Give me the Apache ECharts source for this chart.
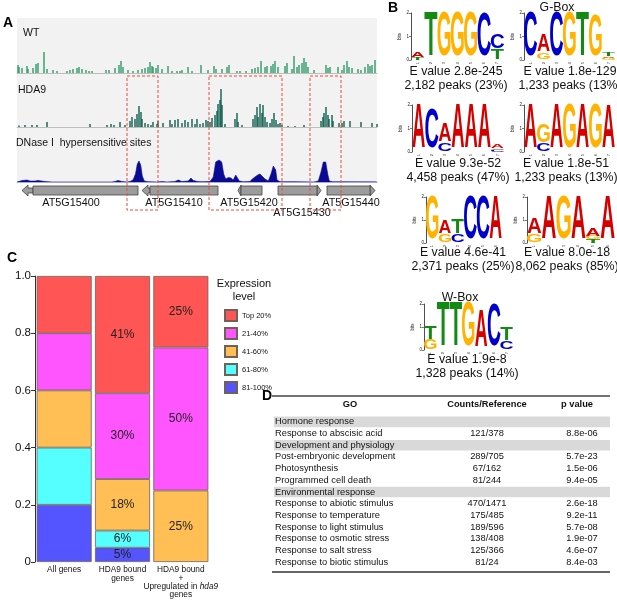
<!DOCTYPE html>
<html>
<head>
<meta charset="utf-8">
<script src="https://cdn.jsdelivr.net/npm/echarts@6/dist/echarts.min.js"></script>
<style>
  html, body { margin: 0; padding: 0; background: #fff; }
  #main { width: 617px; height: 601px; }
</style>
</head>
<body>
<div id="main"></div>
<script>
// ---------- Panel A: browser tracks (x in track bins, y in coverage) ----------
const wtCoverage = [[1,8],[2,6],[5,5],[10,7],[11,4],[16,5],[19,9],[21,10],[27,21],[30,4],[36,3],[40,2],[50,2],[53,3],[56,4],[60,5],[62,6],[65,4],[69,3],[72,2],[75,2],
  [89,3],[92,3],[98,5],[102,8],[104,12],[106,6],[111,3],[116,2],[121,3],[125,4],[128,5],[131,6],[133,11],[135,7],[136,6],[139,5],[141,8],[145,4],[151,7],[155,2],
  [160,2],[163,2],[165,3],[171,6],[175,2],[184,8],[191,3],[197,7],[199,4],[205,4],[210,6],[212,8],[220,2],[223,2],[229,2],[235,4],[238,5],[241,6],[244,12],[248,6],
  [250,7],[254,7],[256,9],[258,12],[261,6],[268,7],[270,10],[275,4],[277,17],[280,6],[282,8],[285,10],[287,15],[289,11],[291,6],[297,3],[309,8],[311,5],[313,6],
  [321,6],[325,3],[327,8],[330,12],[332,6],[335,5],[341,4],[344,3],[348,6],[351,9],[353,7],[355,8],[358,13]];
const hda9Coverage = [[2,1.5],[8,2],[15,2],[20,2],[30,5],[73,3],[90,2],[94,3],[97,2],[103,5],[108,2],[113,6],[115,10],[118,8],[120,13],[122,21],[124,15],[125,8],
  [128,4],[131,3],[134,2],[136,5],[140,3],[141,6],[146,4],[153,7],[155,3],[158,7],[161,8],[165,4],[168,7],[171,5],[175,8],[178,3],[180,8],[183,3],[186,4],[189,7],
  [191,6],[193,5],[195,9],[198,12],[200,16],[201,23],[203,27],[204,38],[205,22],[208,3],[218,8],[220,14],[221,5],[225,2],[236,8],[238,12],[240,20],[241,10],
  [243,23],[245,14],[246,22],[248,10],[250,5],[253,4],[255,8],[257,14],[259,7],[261,3],[263,4],[265,2],[271,1],[278,1],[287,2],[304,6],[306,10],[307,14],
  [309,20],[311,12],[312,8],[315,12],[316,6],[322,4],[325,4],[327,6],[333,6],[344,5],[355,4],[360,3]];
const dnaseSignal = [[0,0],[1,2],[5,1.5],[10,2],[13,1],[18,1],[21,1.5],[28,0.5],[35,0],[95,0],[98,0.5],[101,1.5],[105,0.5],[110,0],[113,0.5],[116,2],[118.5,8],
  [120.3,18],[122,21],[123.7,17],[125.3,6],[127.3,1],[131,0.3],[140,0],[144.7,0.5],[150,0],[158,0.5],[161.3,2],[164.7,0.5],[171.3,1],[174,4],[176.3,1.5],
  [180.7,0.5],[184.7,0.3],[193,0.5],[196.3,5],[198.7,20],[202,22],[204.7,20],[206.7,8],[208.7,3],[211.3,4.5],[214,4],[216.3,2],[218.7,7],[220.7,6],[222.3,1],
  [226.3,0.3],[233,0.5],[235.3,3],[238,5],[240.7,7],[243,8],[244.7,6],[248,3],[251.3,1],[254,8],[256.3,16],[258.7,12],[260,2],[263,0.3],[278,0.3],[297,0],
  [301.3,1],[304,10],[306.3,20],[308.7,20],[310.7,8],[312.3,1],[315.3,0.3],[358,0.3],[360,0]];

const geneNames  = ['AT5G15400', 'AT5G15410', 'AT5G15420', 'AT5G15430', 'AT5G15440'];
const geneStart  = [16, 133, 224, 261, 310];
const geneEnd    = [121, 201, 245, 300, 353];
const geneStrand = [-1, -1, -1, 1, 1];
const geneArrow  = [11, 8, 3, 4, 5];
const geneLabelX = [54, 157, 232, 285, 334];
const geneLabelRow = [0, 0, 0, 1, 0];
const hda9Regions = [[110, 141], [192, 265], [293, 324]];

// ---------- Panel B: motif logos (letter, bits) bottom to top ----------
const logo1 = [[['T',.12],['A',.22]], [['T',1.95]], [['G',1.93]], [['G',1.93]], [['G',1.93]], [['C',1.88]], [['T',.42],['C',.62]]];
const logo2 = [[['C',1.9]], [['G',.3],['A',.75]], [['C',1.9]], [['G',1.9]], [['T',1.9]], [['G',1.78]], [['G',.1],['A',.05],['T',.15]]];
const logo3 = [[['A',1.9]], [['C',1.72]], [['C',.36],['A',.78]], [['A',1.9]], [['A',1.9]], [['A',1.9]], [['C',.08],['G',.07],['A',.14]]];
const logo4 = [[['A',1.9]], [['C',.32],['G',.78]], [['A',1.9]], [['G',1.9]], [['A',1.9]], [['G',1.9]], [['A',1.85]]];
const logo5 = [[['G',1.9]], [['G',.36],['A',.57]], [['C',.36],['T',.64]], [['C',1.9]], [['C',1.9]], [['A',1.9]]];
const logo6 = [[['G',.36],['A',.7]], [['A',1.9]], [['G',1.9]], [['A',1.9]], [['T',.14],['G',.14],['A',.36]], [['A',1.9]]];
const logo7 = [[['G',.43],['T',.58]], [['T',1.95]], [['T',1.95]], [['G',1.95]], [['A',1.65]], [['C',1.85]], [['C',.36],['T',.58]]];
const logoNames = ['', 'G-Box', '', '', '', '', 'W-Box'];
const logoEValues = ['2.8e-245', '1.8e-129', '9.3e-52', '1.8e-51', '4.6e-41', '8.0e-18', '1.9e-8'];
const logoPeaks = ['2,182 peaks (23%)', '1,233 peaks (13%)', '4,458 peaks (47%)', '1,233 peaks (13%)', '2,371 peaks (25%)', '8,062 peaks (85%)', '1,328 peaks (14%)'];

// ---------- Panel C: expression level fractions ----------
const barCats = ['All genes', 'HDA9 bound\ngenes', 'HDA9 bound\n+\nUpregulated in hda9\ngenes'];
const levelNames = ['81-100%', '61-80%', '41-60%', '21-40%', 'Top 20%'];
const level81 = [0.20, 0.05, 0];
const level61 = [0.20, 0.06, 0];
const level41 = [0.20, 0.18, 0.25];
const level21 = [0.20, 0.30, 0.50];
const levelTop = [0.20, 0.41, 0.25];
const yTicks = [0, 0.2, 0.4, 0.6, 0.8, 1.0];

// ---------- Panel D: GO table ----------
const goTerms = ['Hormone response', 'Response to abscisic acid', 'Development and physiology', 'Post-embryonic development', 'Photosynthesis',
  'Programmed cell death', 'Environmental response', 'Response to abiotic stimulus', 'Response to temperature', 'Response to light stimulus',
  'Response to osmotic stress', 'Response to salt stress', 'Response to biotic stimulus'];
const goCounts = ['', '121/378', '', '289/705', '67/162', '81/244', '', '470/1471', '175/485', '189/596', '138/408', '125/366', '81/24'];
const goPValues = ['', '8.8e-06', '', '5.7e-23', '1.5e-06', '9.4e-05', '', '2.6e-18', '9.2e-11', '5.7e-08', '1.9e-07', '4.6e-07', '8.4e-03'];
const goSection = [1, 0, 1, 0, 0, 0, 1, 0, 0, 0, 0, 0, 0];

// ---------- styles ----------
const FONT = 'Liberation Sans';
const LETTER_COLOR = { A: '#d40000', C: '#0000cc', G: '#ffb300', T: '#138a13' };
const LETTER_INK = { A: 0.70, C: 0.64, G: 0.68, T: 0.60 };
const LEVEL_COLOR = ['#5555ff', '#55ffff', '#ffbf55', '#ff55ff', '#ff5555'];

const grid = [], xAxis = [], yAxis = [], series = [], title = [];
function addGrid(g, xa, ya) {
  const i = grid.length;
  grid.push(g);
  xAxis.push(Object.assign({ gridIndex: i }, xa));
  yAxis.push(Object.assign({ gridIndex: i }, ya));
  return i;
}
const hiddenVal = (min, max, inverse) => ({ type: 'value', min, max, show: false, inverse: !!inverse });
function text(t, left, top, style, align) {
  title.push({ text: t, left, top, textAlign: align || 'left', padding: 0,
    textStyle: Object.assign({ fontFamily: FONT, fontSize: 10.5, fontWeight: 'normal', color: '#111', lineHeight: 12 }, style) });
}

// ===== Panel A =====
addGrid({ left: 17, top: 18, width: 360, height: 165, show: true, backgroundColor: '#f2f2f2', borderWidth: 0 }, hiddenVal(0, 360), hiddenVal(0, 1));
const trackX = color => ({ type: 'value', min: 0, max: 360, axisLine: { show: true, onZero: false, lineStyle: { color, width: 1 } },
  axisTick: { show: false }, axisLabel: { show: false }, splitLine: { show: false } });
const wtIdx = addGrid({ left: 17, top: 51, width: 360, height: 22 }, trackX('#bdbdbd'), hiddenVal(0, 22));
const hdIdx = addGrid({ left: 17, top: 87, width: 360, height: 40 }, trackX('#bdbdbd'), hiddenVal(0, 40));
const dnIdx = addGrid({ left: 17, top: 158, width: 360, height: 24 }, trackX('#a9a9e2'), hiddenVal(0, 24));
series.push({ type: 'bar', xAxisIndex: wtIdx, yAxisIndex: wtIdx, data: wtCoverage, barWidth: 1.4, itemStyle: { color: '#2f9a68' }, silent: true });
series.push({ type: 'bar', xAxisIndex: hdIdx, yAxisIndex: hdIdx, data: hda9Coverage, barWidth: 1.4, itemStyle: { color: '#0d5e4e' }, silent: true });
series.push({ type: 'line', xAxisIndex: dnIdx, yAxisIndex: dnIdx, data: dnaseSignal, symbol: 'none', silent: true,
  lineStyle: { color: '#0a0a92', width: 0.6 }, areaStyle: { color: '#0a0a92', opacity: 1 } });

const geneIdx = addGrid({ left: 17, top: 184, width: 360, height: 34 }, hiddenVal(0, 360), hiddenVal(0, 34, true));
series.push({
  type: 'custom', xAxisIndex: geneIdx, yAxisIndex: geneIdx, silent: true,
  data: geneNames.map((n, i) => [geneStart[i], geneEnd[i], geneStrand[i], geneArrow[i], geneLabelX[i], geneLabelRow[i]]),
  renderItem(params, api) {
    const i = params.dataIndex;
    const s = api.value(0), e = api.value(1), dir = api.value(2), arrow = api.value(3);
    const p0 = api.coord([s, 2]), p1 = api.coord([e, 11]);
    const top = p0[1], bot = p1[1], mid = (top + bot) / 2;
    const base = dir < 0 ? p0[0] : p1[0];
    const tip = api.coord([dir < 0 ? s - arrow : e + arrow, 0])[0];
    const hl = Math.min(Math.abs(tip - base), 6) * dir;
    const pts = [[tip, mid], [tip - hl, mid - 5.5], [tip - hl, mid - 2.5], [base, mid - 2.5], [base, mid + 2.5], [tip - hl, mid + 2.5], [tip - hl, mid + 5.5]];
    const lp = api.coord([api.value(4), api.value(5) ? 29 : 19]);
    return { type: 'group', children: [
      { type: 'polygon', shape: { points: pts }, style: { fill: '#9c9c9c', stroke: '#444', lineWidth: 0.8 } },
      { type: 'rect', shape: { x: p0[0], y: top, width: p1[0] - p0[0], height: bot - top }, style: { fill: '#9c9c9c', stroke: '#444', lineWidth: 0.8 } },
      { type: 'text', x: lp[0], y: lp[1], style: { text: geneNames[i], fontFamily: FONT, fontSize: 10.8, fill: '#111', align: 'center', verticalAlign: 'middle' } }
    ] };
  }
});

const boxIdx = addGrid({ left: 17, top: 76, width: 360, height: 134 }, hiddenVal(0, 360), hiddenVal(0, 1));
series.push({
  type: 'custom', xAxisIndex: boxIdx, yAxisIndex: boxIdx, silent: true, z: 5, data: hda9Regions,
  renderItem(params, api) {
    const a = api.coord([api.value(0), 1]), b = api.coord([api.value(1), 0]);
    return { type: 'rect', shape: { x: a[0], y: a[1], width: b[0] - a[0], height: b[1] - a[1] },
      style: { fill: 'none', stroke: '#ec4a3c', lineWidth: 1, lineDash: [3, 2] } };
  }
});
text('A', 3, 16, { fontSize: 14, fontWeight: 'bold', color: '#000', lineHeight: 14 });
text('WT', 23, 27);
text('HDA9', 18, 84);
text('DNase I  hypersensitive sites', 16, 137);

// ===== Panel B =====
const logos = [logo1, logo2, logo3, logo4, logo5, logo6, logo7];
const logoRects = [[411, 13, 93, 47], [524, 13, 91, 47], [412, 105, 92, 47], [524, 105, 91, 47], [426, 197, 76, 46], [527, 197, 88, 46], [424, 304, 89, 46]];
const logoTextAt = [[456, 65], [570, 65], [458, 157], [566, 157], [463, 246], [567, 246], [467, 353]];
const logoNameAt = [null, [557, 1], null, null, null, null, [460, 291]];
logos.forEach((cols, k) => {
  const r = logoRects[k];
  const idx = addGrid({ left: r[0], top: r[1], width: r[2], height: r[3] },
    { type: 'category', data: cols.map((c, i) => String(i + 1)), axisLine: { show: false }, axisTick: { show: false },
      axisLabel: { fontSize: 4, rotate: 90, margin: 2, color: '#333', fontFamily: FONT } },
    { type: 'value', min: 0, max: 2, interval: 1, axisLine: { show: true, lineStyle: { color: '#222', width: 0.8 } },
      axisTick: { show: true, length: 2, lineStyle: { color: '#222', width: 0.6 } }, splitLine: { show: false },
      axisLabel: { fontSize: 4.5, margin: 2, color: '#222', fontFamily: FONT },
      name: 'bits', nameLocation: 'middle', nameGap: 7, nameRotate: 90, nameTextStyle: { fontSize: 4.5, color: '#222', fontFamily: FONT } });
  const data = [], letters = [];
  cols.forEach((stack, i) => {
    let y = 0;
    stack.forEach(([ch, b]) => { data.push([i, y, y + b]); letters.push(ch); y += b; });
  });
  series.push({
    type: 'custom', xAxisIndex: idx, yAxisIndex: idx, silent: true, data,
    renderItem(params, api) {
      const ch = letters[params.dataIndex];
      const i = api.value(0), y0 = api.value(1), y1 = api.value(2);
      const bw = api.size([1, 0])[0];
      const pb = api.coord([i, y0]), pt = api.coord([i, y1]);
      const h = pb[1] - pt[1];
      const F = 40;
      return { type: 'text', x: pb[0], y: (pb[1] + pt[1]) / 2, scaleX: bw * 0.98 / (F * LETTER_INK[ch]), scaleY: h / (F * 0.72),
        style: { text: ch, fontFamily: FONT, fontWeight: 'bold', fontSize: F, fill: LETTER_COLOR[ch], align: 'center', verticalAlign: 'middle' } };
    }
  });
  text('E value ' + logoEValues[k] + '\n' + logoPeaks[k], logoTextAt[k][0], logoTextAt[k][1], { fontSize: 12.3, lineHeight: 13.5 }, 'center');
  if (logoNames[k]) text(logoNames[k], logoNameAt[k][0], logoNameAt[k][1], { fontSize: 12.3, lineHeight: 13 }, 'center');
});
text('B', 388, 1, { fontSize: 14, fontWeight: 'bold', color: '#000', lineHeight: 14 });

// ===== Panel C =====
const cIdx = addGrid({ left: 35, top: 276, width: 175, height: 286 },
  { type: 'category', data: barCats, axisLine: { show: false }, axisTick: { show: false },
    axisLabel: { interval: 0, fontSize: 8.3, lineHeight: 8.3, margin: 4, color: '#111', fontFamily: FONT,
      formatter: v => v.replace('in hda9', 'in {i|hda9}'),
      rich: { i: { fontStyle: 'italic', fontSize: 8.3, lineHeight: 8.3, fontFamily: FONT, color: '#111' } } } },
  { type: 'value', min: 0, max: 1, interval: 0.2, axisLine: { show: true, lineStyle: { color: '#333', width: 1 } },
    axisTick: { show: true, length: 4, lineStyle: { color: '#333' } }, splitLine: { show: false },
    axisLabel: { fontSize: 11.5, margin: 4, color: '#111', fontFamily: FONT,
      formatter: v => (yTicks.indexOf(+v.toFixed(1)) === 0 ? '0' : v.toFixed(1)) } });
[level81, level61, level41, level21, levelTop].forEach((vals, k) => {
  series.push({
    type: 'bar', name: levelNames[k], xAxisIndex: cIdx, yAxisIndex: cIdx, stack: 'expr', barCategoryGap: '5.7%',
    data: vals.map(v => (v > 0 ? v : null)),
    itemStyle: { color: LEVEL_COLOR[k], borderColor: '#6e6258', borderWidth: 0.8 },
    label: { show: true, position: 'inside', fontSize: 12, color: '#222', fontFamily: FONT,
      formatter: p => (p.dataIndex > 0 && p.value ? Math.round(p.value * 100) + '%' : '') },
    silent: true
  });
});
text('C', 7, 251, { fontSize: 14, fontWeight: 'bold', color: '#000', lineHeight: 14 });
text('Expression\nlevel', 244, 278, { fontSize: 11, lineHeight: 12.5 }, 'center');

// ===== Panel D =====
const dIdx = addGrid({ left: 272, top: 416, width: 338, height: 152 }, hiddenVal(0, 338),
  { type: 'category', data: goTerms, inverse: true, show: false });
series.push({
  type: 'custom', xAxisIndex: dIdx, yAxisIndex: dIdx, silent: true,
  data: goTerms.map((t, i) => [0, i]),
  renderItem(params, api) {
    const i = params.dataIndex;
    const yc = api.coord([0, i])[1];
    const bh = api.size([0, 1])[1];
    const X = v => api.coord([v, i])[0];
    const txt = (t, x, y, align, bold) => ({ type: 'text', x, y, style: { text: t, fontFamily: FONT, fontSize: 9.3,
      fontWeight: bold ? 'bold' : 'normal', fill: '#111', align, verticalAlign: 'middle' } });
    const kids = [];
    if (goSection[i]) kids.push({ type: 'rect', shape: { x: X(2), y: yc - bh / 2 + 0.5, width: X(338) - X(2), height: bh - 1 }, style: { fill: '#d9d9d9' } });
    kids.push(txt(goTerms[i], X(3), yc, 'left'));
    if (goCounts[i]) kids.push(txt(goCounts[i], X(215), yc, 'center'));
    if (goPValues[i]) kids.push(txt(goPValues[i], X(310), yc, 'center'));
    if (i === 0) {
      const ty = yc - bh / 2 - 20;
      kids.push({ type: 'line', shape: { x1: X(0), y1: ty, x2: X(338), y2: ty }, style: { stroke: '#444', lineWidth: 1.5 } });
      kids.push(txt('GO', X(78), yc - 17, 'center', true), txt('Counts/Reference', X(215), yc - 17, 'center', true), txt('p value', X(305), yc - 17, 'center', true));
    }
    if (i === goTerms.length - 1) {
      const by = yc + bh / 2 + 4;
      kids.push({ type: 'line', shape: { x1: X(0), y1: by, x2: X(338), y2: by }, style: { stroke: '#333', lineWidth: 1.5 } });
    }
    return { type: 'group', children: kids };
  }
});
text('D', 262, 389, { fontSize: 14, fontWeight: 'bold', color: '#000', lineHeight: 14 });

const chart = echarts.init(document.getElementById('main'));
chart.setOption({
  animation: false,
  backgroundColor: '#fff',
  textStyle: { fontFamily: FONT },
  title,
  grid, xAxis, yAxis, series,
  legend: {
    left: 219, top: 304, orient: 'vertical', itemWidth: 12, itemHeight: 11, itemGap: 5, icon: 'rect', selectedMode: false,
    data: levelNames.slice().reverse(), textStyle: { fontSize: 7.5, color: '#111', fontFamily: FONT }
  }
});
</script>
</body>
</html>
